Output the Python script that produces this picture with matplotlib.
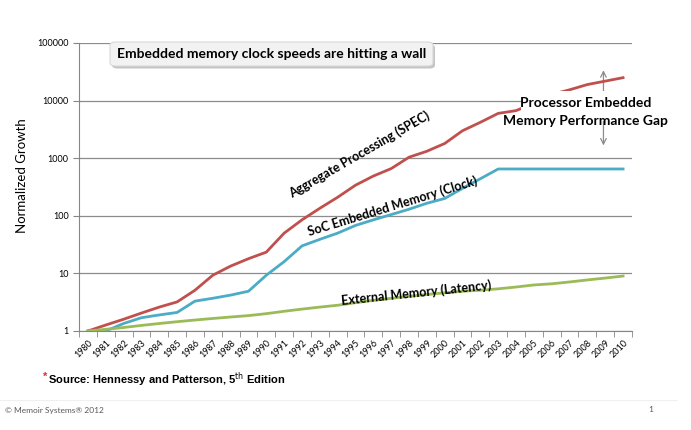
import matplotlib.pyplot as plt
from matplotlib.patches import FancyBboxPatch, Rectangle
import numpy as np

years = list(range(1980, 2011))

# Aggregate Processing (SPEC)
spec = [1, 1.27, 1.6, 2.05, 2.6, 3.2, 5.1, 9.3, 13.4, 18, 23.4, 50, 85, 135, 210,
        340, 490, 660, 1040, 1320, 1800, 3000, 4200, 6000, 6700, 9000, 12800,
        15400, 19000, 21800, 25000]
# SoC Embedded Memory (Clock)
soc = [1, 1, 1.35, 1.7, 1.9, 2.1, 3.3, 3.7, 4.2, 4.9, 9.3, 16, 30, 39, 50,
       68, 85, 105, 130, 165, 200, 300, 440, 650, 650, 650, 650, 650, 650,
       650, 650]
# External Memory (Latency)
ext = [1.0, 1.07, 1.15, 1.25, 1.35, 1.45, 1.55, 1.65, 1.75, 1.85, 2.0, 2.2,
       2.4, 2.6, 2.8, 3.1, 3.4, 3.7, 4.0, 4.3, 4.6, 4.9, 5.1, 5.4, 5.8, 6.3,
       6.6, 7.1, 7.7, 8.3, 9.0]

yticks = [1, 10, 100, 1000, 10000, 100000]

plt.rcParams['font.family'] = ['Lato', 'DejaVu Sans']

W, H = 691, 430
fig = plt.figure(figsize=(W / 100, H / 100), dpi=100)
ax = fig.add_axes([79 / W, 1 - 331 / H, 553 / W, 288 / H])


def px(x, y):
    # pixel position (from top-left) -> figure fraction
    return x / W, 1 - y / H


x = np.arange(len(years))
ax.plot(x, spec, color='#C0504D', lw=2, zorder=3)
ax.plot(x, soc, color='#4BACC6', lw=2, zorder=3)
ax.plot(x, ext, color='#9BBB59', lw=2, zorder=3)

ax.set_yscale('log')
ax.set_ylim(1, 100000)
ax.set_xlim(-0.5, len(years) - 0.5)
ax.set_yticks(yticks)
ax.set_yticklabels([str(v) for v in yticks], fontsize=6.5)
ax.yaxis.set_minor_locator(plt.NullLocator())
ax.grid(axis='y', color='#8c8c8c', lw=0.9)
ax.set_axisbelow(True)

ax.set_xticks(x)
ax.set_xticklabels([str(y) for y in years], rotation=45, ha='right',
                   rotation_mode='anchor', fontsize=6.5)
ax.set_xticks(np.arange(len(years) + 1) - 0.5, minor=True)
ax.tick_params(axis='x', which='major', length=0, pad=5)
ax.tick_params(axis='x', which='minor', length=4, color='#868686')
ax.tick_params(axis='y', length=4, color='#868686')

for s in ['top', 'right']:
    ax.spines[s].set_visible(False)
for s in ['left', 'bottom']:
    ax.spines[s].set_color('#868686')

ax.set_ylabel('Normalized Growth', fontsize=9.5)
ax.yaxis.set_label_coords(-0.092, 0.538)

# title box with a soft shadow (pixel box 110..433 x 42..66)
bx, by, bw, bh = 110, 42, 323, 24
shadow = FancyBboxPatch(px(bx + 2, by + bh + 2.5), bw / W, bh / H,
                        boxstyle='round,pad=0,rounding_size=0.008',
                        fc='#c4c4c4', ec='none', transform=fig.transFigure)
box = FancyBboxPatch(px(bx, by + bh), bw / W, bh / H,
                     boxstyle='round,pad=0,rounding_size=0.008',
                     fc='#f2f2f2', ec='#d8d8d8', lw=0.8, transform=fig.transFigure)
fig.add_artist(shadow)
fig.add_artist(box)
fig.text(*px(bx + bw / 2, by + bh / 2),
         'Embedded memory clock speeds are hitting a wall',
         ha='center', va='center', fontsize=10, fontweight='bold')

# series labels
ax.text(15.2, 1170, 'Aggregate Processing (SPEC)', rotation=30, ha='center',
        va='center', fontsize=9, fontweight='bold', zorder=4)
ax.text(17.1, 150, 'SoC Embedded Memory (Clock)', rotation=17, ha='center',
        va='center', fontsize=9, fontweight='bold', zorder=4)
ax.text(18.4, 4.6, 'External Memory (Latency)', rotation=6, ha='center',
        va='center', fontsize=9, fontweight='bold', zorder=4)

# gap arrow
ax.annotate('', xy=(28.9, 1490), xytext=(28.9, 37600),
            arrowprops=dict(arrowstyle='<->', color='#8c8c8c', lw=0.9),
            zorder=2)
# white backing behind the gap label
fig.add_artist(Rectangle(px(521, 121), 140 / W, 30 / H, fc='white', ec='none',
                         transform=fig.transFigure, zorder=1))
fig.text(*px(586, 107), 'Processor Embedded', ha='center', va='baseline',
         fontsize=10, fontweight='bold')
fig.text(*px(585.5, 125), 'Memory Performance Gap', ha='center', va='baseline',
         fontsize=10, fontweight='bold')

# source and footer
fig.text(*px(43, 377), '*', color='#e03030', fontsize=8,
         fontweight='bold', family=['Liberation Sans', 'DejaVu Sans'], va='center')
fig.text(*px(48, 380), r'Source: Hennessy and Patterson, 5$^{\mathrm{th}}$ Edition',
         fontsize=8, fontweight='bold', va='center',
         family=['Liberation Sans', 'DejaVu Sans'])
fig.add_artist(plt.Line2D([0, 0.98], [1 - 400 / H, 1 - 400 / H],
                          color='#f0f0f0', lw=0.8))
fig.text(*px(5, 410), '\u00a9 Memoir Systems\u00ae 2012', fontsize=6,
         color='#595959', va='center')
fig.text(*px(648, 410), '1', fontsize=6, color='#595959', va='center')

fig.savefig('out.png', dpi=100)
